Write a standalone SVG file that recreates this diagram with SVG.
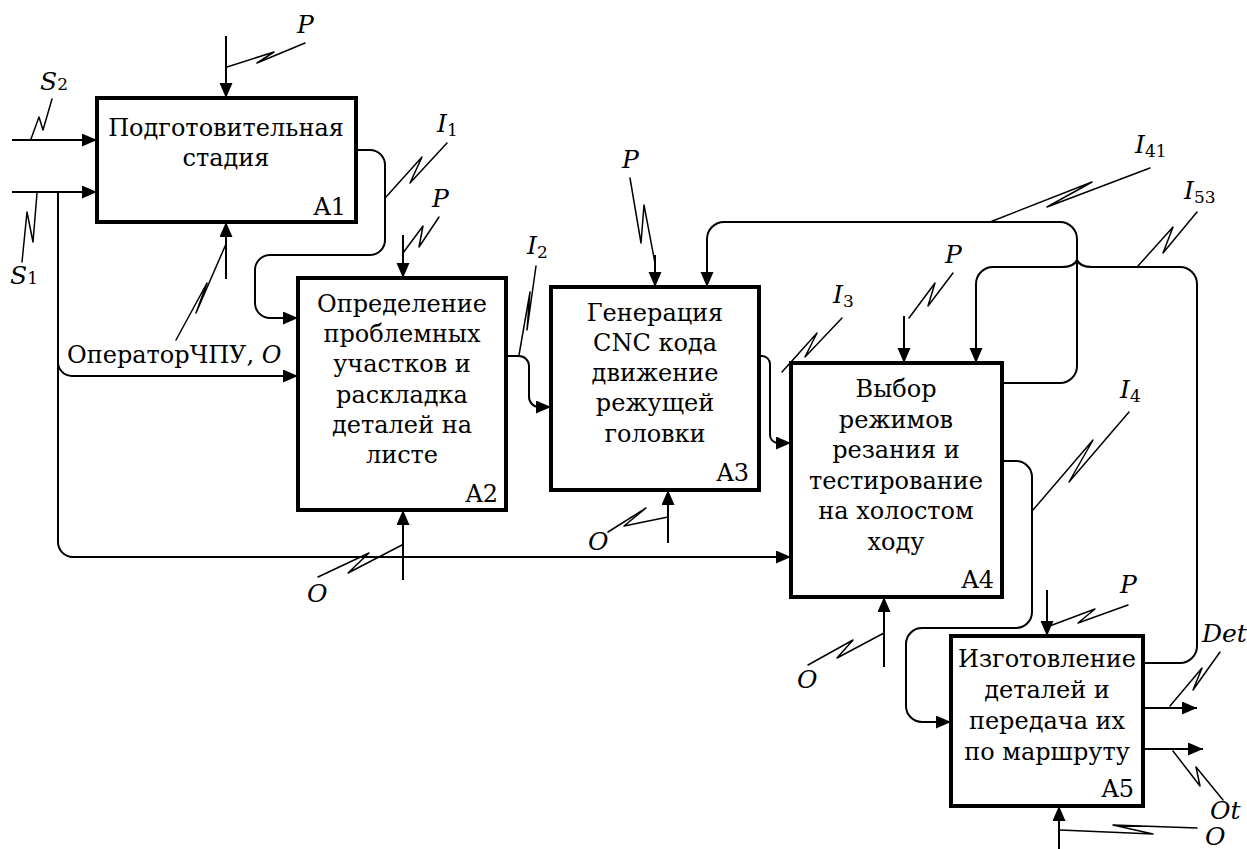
<svg xmlns="http://www.w3.org/2000/svg" width="1247" height="849" viewBox="0 0 1247 849">
<style>
.box{fill:#fff;stroke:#000;stroke-width:4}
.arr{fill:none;stroke:#000;stroke-width:2;stroke-linejoin:round;marker-end:url(#ah)}
.sq{fill:none;stroke:#000;stroke-width:1.5;stroke-linejoin:round;stroke-linecap:round}
.t{font-size:25px;fill:#000}
.b{font-size:24px}
.c{text-anchor:middle}
.e{text-anchor:end}
.i{font-style:italic}
.sub{font-size:17px;font-style:normal}
</style>
<defs>
<marker id="ah" markerUnits="userSpaceOnUse" markerWidth="16" markerHeight="14" refX="15" refY="6.5" orient="auto">
<path d="M0,0 L15,6.5 L0,13 z" fill="#000"/>
</marker>
</defs>

<g id="connectors">
<path class="arr" d="M12,140 H97"/>
<path class="arr" d="M12,192 H97"/>
<path class="arr" d="M58,192 V542 A15,15 0 0 0 73,557 H791"/>
<path class="arr" d="M58,362 A14,14 0 0 0 72,376 H298"/>
<path class="arr" d="M356,150 H370 A15,15 0 0 1 385,165 V240 A15,15 0 0 1 370,255 H270 A15,15 0 0 0 255,270 V303 A15,15 0 0 0 270,318 H298"/>
<path class="arr" d="M506,356 H519 A10,10 0 0 1 529,366 V397 A10,10 0 0 0 539,407 H551"/>
<path class="arr" d="M759,356 H762 A8,8 0 0 1 770,364 V435 A8,8 0 0 0 778,443 H791"/>
<path class="arr" d="M1002,383 H1060 A17,17 0 0 0 1077,366 V239 A17,17 0 0 0 1060,222 H724 A17,17 0 0 0 707,239 V287"/>
<path class="arr" d="M1143,663 H1180 A17,17 0 0 0 1197,646 V284 A17,17 0 0 0 1180,267 H1092 Q1080,267 1077,260 Q1074,267 1062,267 H993 A17,17 0 0 0 976,284 V363"/>
<path class="arr" d="M1002,461 H1016 A16,16 0 0 1 1032,477 V612 A16,16 0 0 1 1016,628 H922 A16,16 0 0 0 906,644 V706 A16,16 0 0 0 922,722 H951"/>
<path class="arr" d="M226,36 V98"/>
<path class="arr" d="M403,235 V278"/>
<path class="arr" d="M655,255 V287"/>
<path class="arr" d="M904,316 V363"/>
<path class="arr" d="M1047,590 V636"/>
<path class="arr" d="M226,279 V222"/>
<path class="arr" d="M403,580 V510"/>
<path class="arr" d="M668,543 V490"/>
<path class="arr" d="M884,667 V597"/>
<path class="arr" d="M1059,849 V806"/>
<path class="arr" d="M1143,708 H1197"/>
<path class="arr" d="M1143,749 H1203"/>
<path class="sq" d="M227,67 L274,52 L257,63 L305,43"/>
<path class="sq" d="M31,139 L39,117 L43,130 L52,99"/>
<path class="sq" d="M37,193 L33,242 L27,212 L22,262"/>
<path class="sq" d="M226,244 L196,313 L207,283 L176,340"/>
<path class="sq" d="M386,197 L422,157 L410,183 L447,143"/>
<path class="sq" d="M403,253 L423,226 L419,247 L439,217"/>
<path class="sq" d="M519,355 L530,292 L527,330 L536,266"/>
<path class="sq" d="M655,263 L644,205 L641,243 L630,178"/>
<path class="sq" d="M990,222 L1092,182 L1047,207 L1150,168"/>
<path class="sq" d="M1138,266 L1173,227 L1163,253 L1197,212"/>
<path class="sq" d="M909,318 L935,283 L928,306 L953,273"/>
<path class="sq" d="M782,372 L817,333 L805,357 L842,318"/>
<path class="sq" d="M1033,510 L1093,440 L1069,482 L1129,412"/>
<path class="sq" d="M402,545 L348,573 L369,553 L318,577"/>
<path class="sq" d="M668,517 L624,526 L646,508 L608,532"/>
<path class="sq" d="M884,633 L837,658 L853,640 L808,665"/>
<path class="sq" d="M1047,627 L1095,609 L1078,623 L1128,605"/>
<path class="sq" d="M1170,706 L1202,668 L1193,690 L1220,652"/>
<path class="sq" d="M1173,751 L1200,786 L1196,767 L1223,800"/>
<path class="sq" d="M1060,830 L1153,834 L1113,825 L1197,828"/>
</g>

<g font-family="DejaVu Serif, Liberation Serif, serif">
<g id="labels">
<text class="t i" x="297" y="33">P</text>
<text class="t" x="40" y="90"><tspan class="i">S</tspan><tspan class="sub">2</tspan></text>
<text class="t" x="10" y="284"><tspan class="i">S</tspan><tspan class="sub">1</tspan></text>
<text class="t" x="437" y="132"><tspan class="i">I</tspan><tspan class="sub" dy="4">1</tspan></text>
<text class="t i" x="432" y="207">P</text>
<text class="t" x="527" y="254"><tspan class="i">I</tspan><tspan class="sub" dy="4">2</tspan></text>
<text class="t i" x="622" y="168">P</text>
<text class="t" x="1135" y="153"><tspan class="i">I</tspan><tspan class="sub" dy="4">41</tspan></text>
<text class="t" x="1184" y="199"><tspan class="i">I</tspan><tspan class="sub" dy="4">53</tspan></text>
<text class="t i" x="945" y="263">P</text>
<text class="t" x="833" y="303"><tspan class="i">I</tspan><tspan class="sub" dy="4">3</tspan></text>
<text class="t" x="1120" y="398"><tspan class="i">I</tspan><tspan class="sub" dy="4">4</tspan></text>
<text class="t i" x="1120" y="593">P</text>
<text class="t i" x="1202" y="642">Det</text>
<text class="t i" x="1210" y="819">Ot</text>
<text class="t i" x="1205" y="845">O</text>
<text class="t i" x="797" y="688">O</text>
<text class="t i" x="588" y="550">O</text>
<text class="t i" x="307" y="602">O</text>
<text class="t b" x="67" y="363">ОператорЧПУ, <tspan class="i">O</tspan></text>
</g>

<g id="A1">
<rect class="box" x="97" y="98" width="259" height="124"/>
<text class="t b c" x="226" y="136">Подготовительная</text>
<text class="t b c" x="226" y="166">стадия</text>
<text class="t b e" x="346" y="215">A1</text>
</g>

<g id="A2">
<rect class="box" x="298" y="278" width="208" height="232"/>
<text class="t b c" x="402" y="312">Определение</text>
<text class="t b c" x="402" y="342">проблемных</text>
<text class="t b c" x="402" y="372">участков и</text>
<text class="t b c" x="402" y="403">раскладка</text>
<text class="t b c" x="402" y="433">деталей на</text>
<text class="t b c" x="402" y="463">листе</text>
<text class="t b e" x="498" y="502">A2</text>
</g>

<g id="A3">
<rect class="box" x="551" y="287" width="208" height="203"/>
<text class="t b c" x="655" y="321">Генерация</text>
<text class="t b c" x="655" y="351">CNC кода</text>
<text class="t b c" x="655" y="381">движение</text>
<text class="t b c" x="655" y="411">режущей</text>
<text class="t b c" x="655" y="442">головки</text>
<text class="t b e" x="749" y="481">A3</text>
</g>

<g id="A4">
<rect class="box" x="791" y="363" width="211" height="234"/>
<text class="t b c" x="896" y="397">Выбор</text>
<text class="t b c" x="896" y="428">режимов</text>
<text class="t b c" x="896" y="458">резания и</text>
<text class="t b c" x="896" y="489">тестирование</text>
<text class="t b c" x="896" y="519">на холостом</text>
<text class="t b c" x="896" y="550">ходу</text>
<text class="t b e" x="994" y="588">A4</text>
</g>

<g id="A5">
<rect class="box" x="951" y="636" width="192" height="170"/>
<text class="t b c" x="1047" y="667">Изготовление</text>
<text class="t b c" x="1047" y="698">деталей и</text>
<text class="t b c" x="1047" y="729">передача их</text>
<text class="t b c" x="1047" y="760">по маршруту</text>
<text class="t b e" x="1134" y="797">A5</text>
</g>
</g>
</svg>
